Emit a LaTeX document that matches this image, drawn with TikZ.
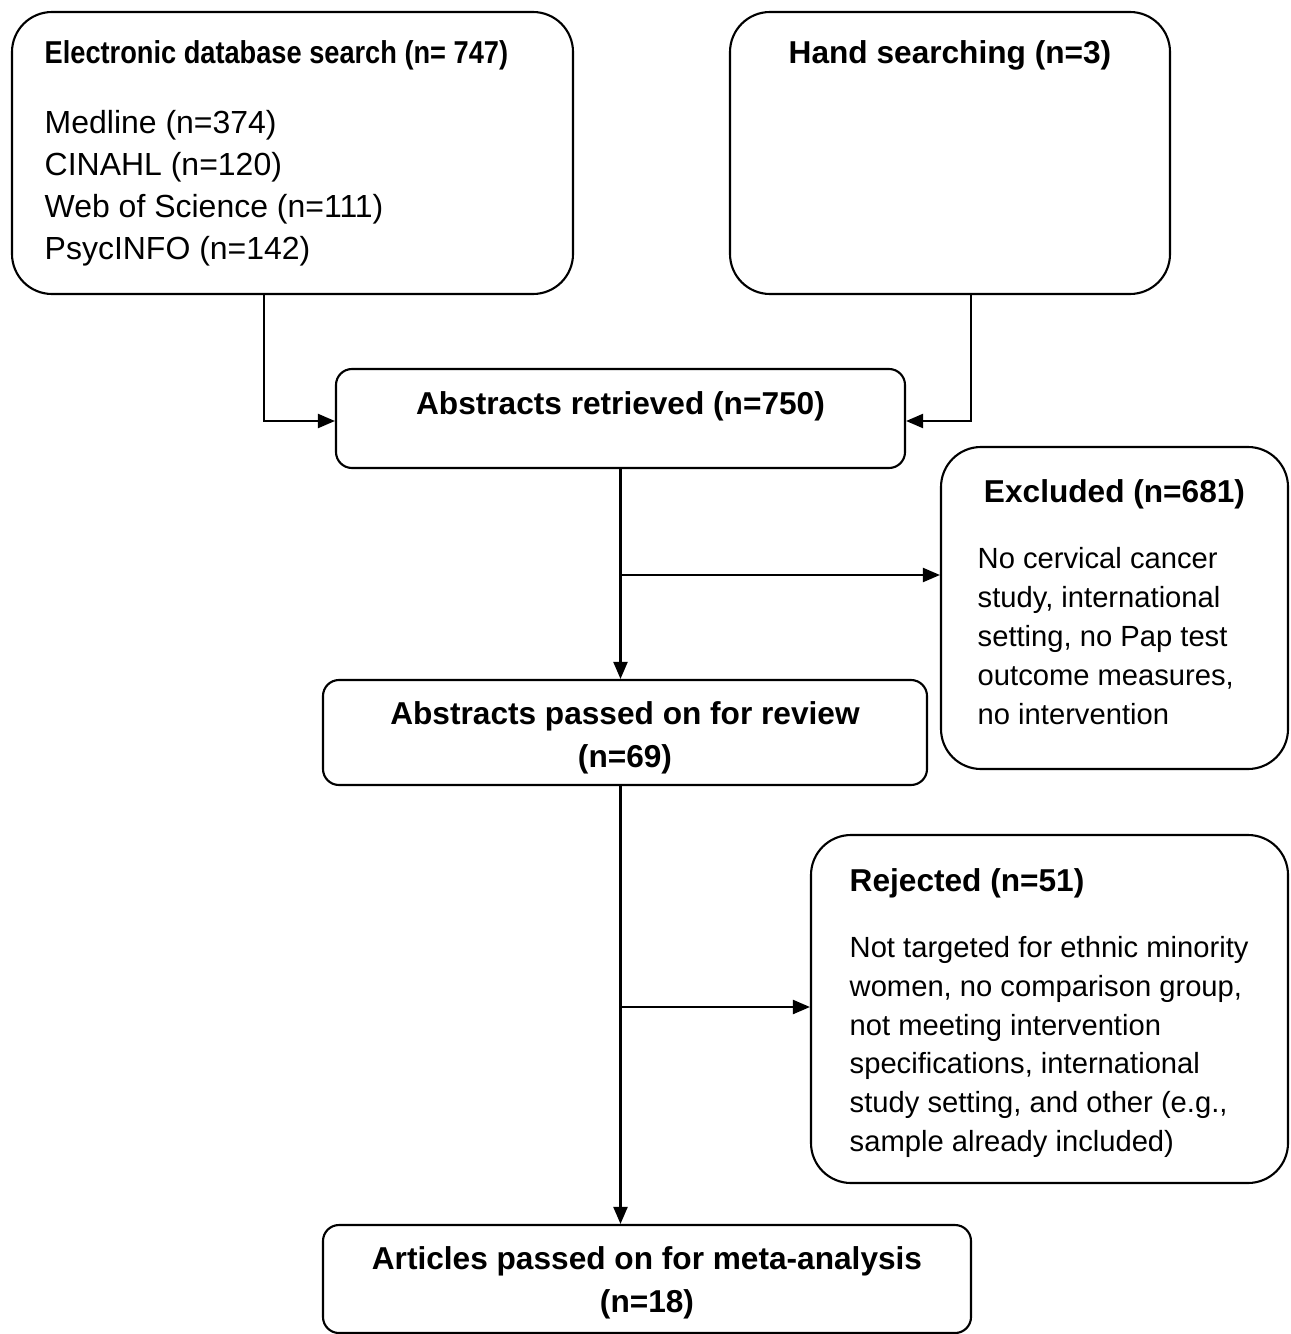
\documentclass[tikz,border=0pt]{standalone}
\usepackage{fontspec}
\setmainfont{Liberation Sans}
\newfontfamily\narrowfont[FakeStretch=0.86]{Liberation Sans}
\usetikzlibrary{arrows.meta,positioning}

\tikzset{
  bigbox/.style={draw, line width=0.6pt, rounded corners=0.4cm, inner sep=0pt},
  smallbox/.style={draw, line width=0.6pt, rounded corners=0.16cm, inner sep=0pt},
  arr/.style={line width=0.6pt, -{Triangle[length=0.17cm,width=0.14cm]}},
  txt/.style={inner sep=0pt, font=\fontsize{9}{11.9}\selectfont},
}

\begin{document}
\begin{tikzpicture}
	\useasboundingbox (0,0) rectangle (12.91,-13.34);
	% boxes
	\node[bigbox, minimum width=5.61cm, minimum height=2.82cm] (elec) at (2.925,-1.53) {};
	\node[bigbox, minimum width=4.40cm, minimum height=2.82cm] (hand) at (9.50,-1.53) {};
	\node[smallbox, minimum width=5.69cm, minimum height=0.99cm] (retr) at (6.205,-4.185) {};
	\node[bigbox, minimum width=3.47cm, minimum height=3.22cm] (excl) at (11.145,-6.08) {};
	\node[smallbox, minimum width=6.04cm, minimum height=1.05cm] (pass) at (6.25,-7.325) {};
	\node[bigbox, minimum width=4.77cm, minimum height=3.48cm] (rej) at (10.495,-10.09) {};
	\node[smallbox, minimum width=6.48cm, minimum height=1.08cm] (art) at (6.47,-12.79) {};
	% texts
	\node[txt, anchor=west] (electitle) at (0.44,-0.55) {\narrowfont\bfseries Electronic database search (n= 747)};
	\node[txt, anchor=west, align=left, font=\fontsize{9.1}{11.9}\selectfont] (eleclist) at (0.44,-1.88)
		{Medline (n=374)\\CINAHL (n=120)\\Web of Science (n=111)\\PsycINFO (n=142)};
	\node[txt] (handtitle) at (9.50,-0.55) {\bfseries Hand searching (n=3)};
	\node[txt] (retrtitle) at (6.205,-4.06) {\bfseries Abstracts retrieved (n=750)};
	\node[txt] (excltitle) at (11.145,-4.94) {\bfseries Excluded (n=681)};
	\node[txt, anchor=west, align=left, font=\fontsize{8.3}{11.05}\selectfont] (excllist) at (9.77,-6.36)
		{No cervical cancer\\study, international\\setting, no Pap test\\outcome measures,\\no intervention};
	\node[txt, align=center, font=\fontsize{9}{12.2}\selectfont\bfseries] (passtitle) at (6.25,-7.375)
		{Abstracts passed on for review\\(n=69)};
	\node[txt, anchor=west] (rejtitle) at (8.49,-8.83) {\bfseries Rejected (n=51)};
	\node[txt, anchor=west, align=left, font=\fontsize{8.3}{11}\selectfont] (rejlist) at (8.49,-10.47)
		{Not targeted for ethnic minority\\women, no comparison group,\\not meeting intervention\\specifications, international\\study setting, and other (e.g.,\\sample already included)};
	\node[txt, align=center, font=\fontsize{9}{12.2}\selectfont\bfseries] (arttitle) at (6.47,-12.825)
		{Articles passed on for meta-analysis\\(n=18)};
	% connectors
	\coordinate (b1) at (6.20,-5.75);
	\coordinate (b2) at (6.20,-10.07);
	\draw[arr] ([xshift=-2.85mm]elec.south) |- ([yshift=-0.25mm]retr.west);
	\draw[arr] ([xshift=2.1mm]hand.south) |- ([yshift=-0.25mm]retr.east);
	\draw[arr] (retr.south) -- (retr.south |- pass.north);
	\draw[arr] (b1) -- (b1 -| excl.west);
	\draw[arr] (retr.south |- pass.south) -- (retr.south |- art.north);
	\draw[arr] (b2) -- (b2 -| rej.west);
\end{tikzpicture}
\end{document}
